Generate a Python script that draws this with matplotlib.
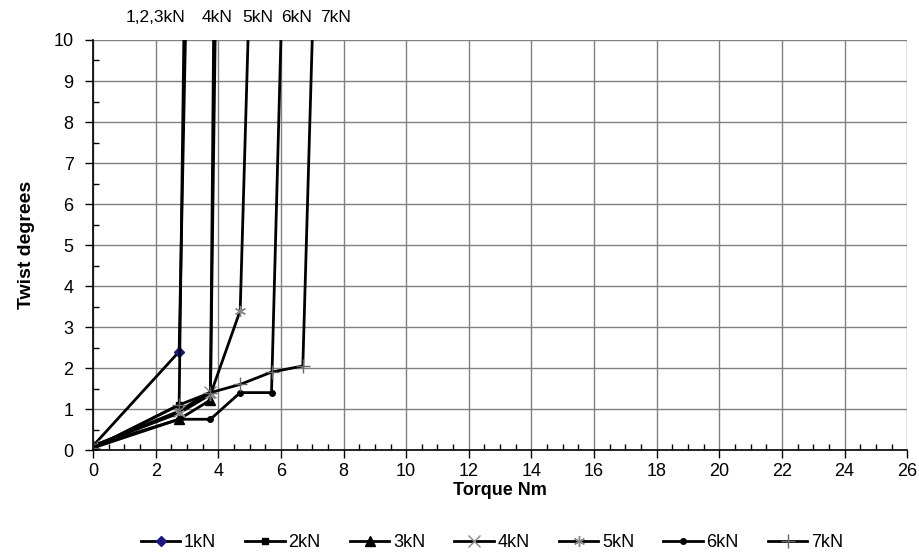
import numpy as np
import matplotlib.pyplot as plt
from matplotlib.ticker import MultipleLocator

plt.rcParams['font.family'] = ['Liberation Sans', 'DejaVu Sans']

# Twist vs torque for each axial load
x_1kN = [0, 2.75, 2.95]
y_1kN = [0.1, 2.4, 10]
x_2kN = [0, 2.75, 2.9]
y_2kN = [0.05, 1.1, 10]
x_3kN = [0, 2.75, 3.75, 3.85]
y_3kN = [0.1, 0.75, 1.22, 10]
x_4kN = [0, 2.75, 3.75, 3.9]
y_4kN = [0.1, 0.95, 1.42, 10]
x_5kN = [0, 2.75, 3.75, 4.7, 4.95]
y_5kN = [0.1, 0.9, 1.35, 3.4, 10]
x_6kN = [0, 2.75, 3.75, 4.7, 5.7, 6.0]
y_6kN = [0.05, 0.75, 0.75, 1.4, 1.4, 10]
x_7kN = [0, 2.75, 3.75, 4.7, 5.7, 6.7, 7.0]
y_7kN = [0.05, 1.1, 1.4, 1.6, 1.9, 2.05, 10]

top_labels = ['1,2,3kN', '4kN', '5kN', '6kN', '7kN']
top_label_x = [2.0, 3.96, 5.27, 6.49, 7.73]

fig = plt.figure(figsize=(9.19, 5.54), dpi=100)
ax = fig.add_axes([0.1012, 0.1877, 0.886, 0.7401])

lw = 2
def no_top(xs):
    # markers on measured points only, not on the slip end point
    return list(range(len(xs) - 1))

ax.plot(x_1kN, y_1kN, color='black', lw=lw, marker='D', ms=5, mfc='#1a1a80', mec='#1a1a80',
        markevery=no_top(x_1kN), label='1kN')
ax.plot(x_2kN, y_2kN, color='black', lw=lw, marker='s', ms=4, markevery=no_top(x_2kN), label='2kN')
ax.plot(x_3kN, y_3kN, color='black', lw=lw, marker='^', ms=7, markevery=no_top(x_3kN), label='3kN')
ax.plot(x_4kN, y_4kN, color='black', lw=lw, marker='x', ms=8, mec='#888888',
        markevery=no_top(x_4kN), label='4kN')
ax.plot(x_5kN, y_5kN, color='black', lw=lw, marker=(6, 2, 0), ms=8, mec='#888888',
        markevery=no_top(x_5kN), label='5kN')
ax.plot(x_6kN, y_6kN, color='black', lw=lw, marker='o', ms=4, markevery=no_top(x_6kN), label='6kN')
ax.plot(x_7kN, y_7kN, color='black', lw=lw, marker='+', ms=10, mec='#666666',
        markevery=no_top(x_7kN), label='7kN')

ax.set_xlim(0, 26)
ax.set_ylim(0, 10)
ax.xaxis.set_major_locator(MultipleLocator(2))
ax.xaxis.set_minor_locator(MultipleLocator(0.5))
ax.yaxis.set_major_locator(MultipleLocator(1))
ax.yaxis.set_minor_locator(MultipleLocator(0.5))
ax.grid(True, which='major', color='#808080', lw=1)
ax.set_axisbelow(True)

for s in ['top', 'right']:
    ax.spines[s].set_visible(False)
ax.spines['left'].set_linewidth(1.2)
ax.spines['bottom'].set_linewidth(1.2)

ax.tick_params(which='major', direction='out', length=6, labelsize=13, width=1)
ax.tick_params(axis='y', which='major', pad=8)
ax.tick_params(which='minor', direction='in', length=4, width=1)

ax.set_xlabel('Torque Nm', fontsize=13, fontweight='bold', labelpad=1)
ax.set_ylabel('Twist degrees', fontsize=14, fontweight='bold', labelpad=13)

for lab, xp in zip(top_labels, top_label_x):
    ax.text(xp, 10.55, lab, ha='center', va='center', fontsize=12.5)

ax.legend(loc='upper center', bbox_to_anchor=(0.49, -0.165), ncol=7, frameon=False,
          fontsize=13, handlelength=2.2, handletextpad=0.2, columnspacing=1.6)

fig.savefig('out.png', dpi=100)
